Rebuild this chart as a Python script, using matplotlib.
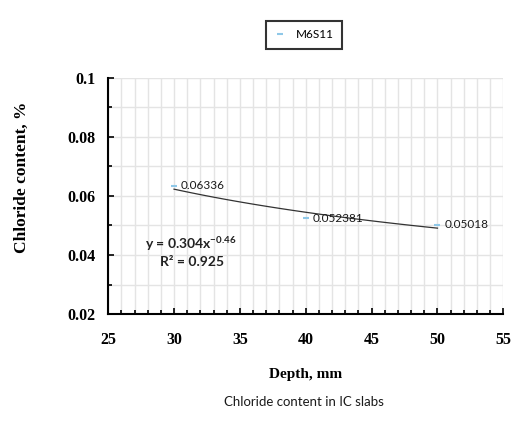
import numpy as np
import matplotlib.pyplot as plt
from matplotlib.ticker import MultipleLocator

# measured chloride content at each depth
depth = [30, 40, 50]
chloride = [0.06336, 0.052381, 0.05018]
point_labels = ["0.06336", "0.052381", "0.05018"]
series_name = "M6S11"
y_ticks = [0.02, 0.04, 0.06, 0.08, 0.1]
y_tick_labels = ["0.02", "0.04", "0.06", "0.08", "0.1"]

# power-law trend fitted in log space: y = a * x^b
b, ln_a = np.polyfit(np.log(depth), np.log(chloride), 1)
a = np.exp(ln_a)
x_fit = np.linspace(depth[0], depth[-1], 100)
y_fit = a * x_fit ** b

serif = "Liberation Serif"
sans = "Lato"
plt.rcParams["mathtext.fontset"] = "custom"
plt.rcParams["mathtext.rm"] = sans
plt.rcParams["mathtext.bf"] = sans + ":bold"

fig = plt.figure(figsize=(5.2, 4.32), dpi=100)
ax = fig.add_axes([0.208, 0.273, 0.76, 0.547])

ax.plot(x_fit, y_fit, color="#333333", linewidth=0.9, zorder=3)
ax.plot(depth, chloride, linestyle="none", marker="_", markersize=5,
        markeredgewidth=1.5, color="#8fc8e8", label=series_name, zorder=4)

for x, y, s in zip(depth, chloride, point_labels):
    ax.annotate(s, (x, y), xytext=(5, 0), textcoords="offset points",
                fontsize=8.5, family=sans, va="center", color="#1a1a1a")

# trendline equation and R²
ax.text(31.3, 0.0439, r"y = 0.304x$^{\mathbf{-0.46}}$", fontsize=10,
        family=sans, fontweight="bold", ha="center", va="center", color="#222222")
ax.text(31.4, 0.0376, "R² = 0.925", fontsize=10,
        family=sans, fontweight="bold", ha="center", va="center", color="#222222")

ax.set_xlim(25, 55)
ax.set_ylim(0.02, 0.1)
ax.xaxis.set_major_locator(MultipleLocator(5))
ax.xaxis.set_minor_locator(MultipleLocator(1))
ax.yaxis.set_minor_locator(MultipleLocator(0.01))
ax.set_yticks(y_ticks)
ax.set_yticklabels(y_tick_labels)

ax.grid(which="both", color="#e4e4e4", linewidth=1.0, zorder=0)
ax.set_axisbelow(True)
for side in ["top", "right"]:
    ax.spines[side].set_visible(False)
for side in ["left", "bottom"]:
    ax.spines[side].set_linewidth(1.5)
ax.tick_params(which="both", direction="in", width=1.2, labelsize=11.5)
ax.tick_params(axis="x", pad=13)
ax.tick_params(axis="y", pad=9)
ax.tick_params(which="major", length=4)
ax.tick_params(which="minor", length=3)
for lab in ax.get_xticklabels() + ax.get_yticklabels():
    lab.set_family(serif)
    lab.set_fontweight("bold")

ax.set_xlabel("Depth, mm", family=serif, fontweight="bold", fontsize=11, labelpad=14)
ax.set_ylabel("Chloride content, %", family=serif, fontweight="bold", fontsize=12.5)
ax.yaxis.set_label_coords(-0.198, 0.58)

leg = fig.legend(loc="center", bbox_to_anchor=(0.585, 0.919), frameon=True,
                 fancybox=False, prop={"family": sans, "size": 8.5},
                 handlelength=1.0, borderpad=0.7, handletextpad=0.8)
leg.get_frame().set_edgecolor("black")
leg.get_frame().set_linewidth(1.5)

fig.text(0.585, 0.069, "Chloride content in IC slabs", family=sans, fontsize=9.5,
         ha="center", va="center", color="#1a1a1a")

fig.savefig("out.png", dpi=100)
